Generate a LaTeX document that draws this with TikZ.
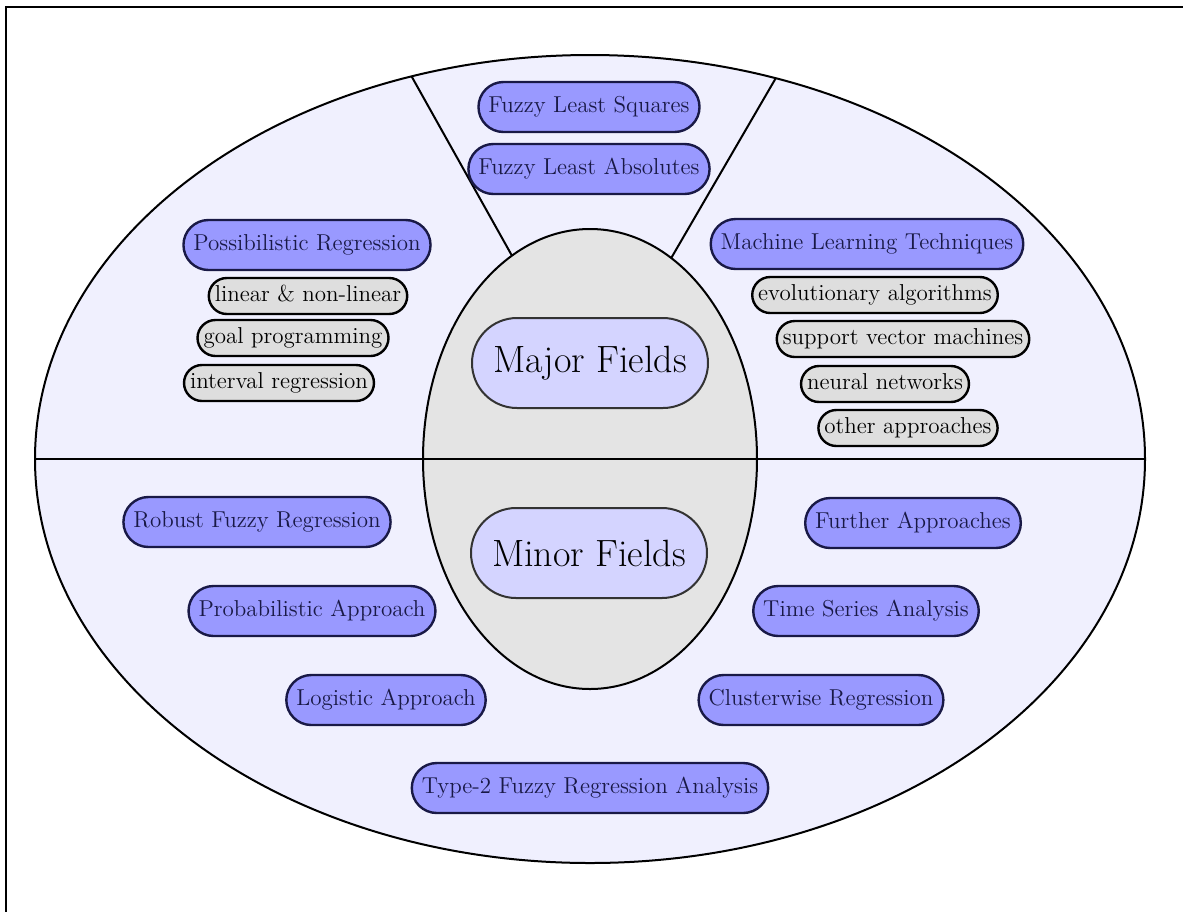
\documentclass[tikz,border=0pt]{standalone}
\usepackage{fontspec}
\usetikzlibrary{shapes.geometric}
\definecolor{outerfill}{RGB}{240,240,254}
\definecolor{innerfill}{RGB}{228,228,228}
\definecolor{bluebox}{RGB}{153,153,255}
\definecolor{fieldbox}{RGB}{212,212,255}
\definecolor{graybox}{RGB}{222,222,222}
\definecolor{navy}{RGB}{25,25,70}
\begin{document}
\begin{tikzpicture}[x=0.5pt,y=-0.5pt,
  bluenode/.style={draw=navy, line width=1.2pt, fill=bluebox, text=navy,
    rounded corners=12.5pt, minimum height=25pt, inner xsep=5pt, inner ysep=2pt,
    text height=7.8pt, text depth=2.3pt, font=\fontsize{11.5}{13}\selectfont},
  graynode/.style={draw=black, line width=1.2pt, fill=graybox,
    rounded corners=9pt, minimum height=18pt, inner xsep=3pt, inner ysep=1.5pt,
    text height=7.8pt, text depth=2.3pt, font=\fontsize{11.5}{13}\selectfont},
  fieldnode/.style={draw=black!80, line width=1pt, fill=fieldbox,
    rounded corners=22.5pt, minimum height=45pt, minimum width=118pt,
    inner sep=0pt, font=\fontsize{19}{22}\selectfont},
  region/.style={ellipse, draw=black, line width=1pt, inner sep=0pt, outer sep=0pt},
  divider/.style={draw=black, line width=1pt},
  frameline/.style={draw=black, line width=1.1pt}]
\useasboundingbox (0,0) rectangle (1183,911);
% frame (top and left edges visible)
\coordinate (fTL) at (6,7);
\coordinate (fTR) at (1190,7);
\coordinate (fBL) at (6,920);
\draw[frameline] (fTR) -- (fTL) -- (fBL);
% regions
\node[region, fill=outerfill, minimum width=555pt, minimum height=404pt] (outer) at (590,459) {};
\node[region, fill=innerfill, minimum width=167pt, minimum height=230pt] (inner) at (590,459) {};
\draw[divider] (outer.west) -- (outer.east);
\draw[divider] (inner.111.9) -- (outer.115.8);
\draw[divider] (inner.68.1) -- (outer.64.2);
% centre
\node[fieldnode] (major) at (590,363) {Major Fields};
\node[fieldnode] (minor) at (589,553) {Minor Fields};
% top wedge
\node[bluenode] (fls) at (589,107) {Fuzzy Least Squares};
\node[bluenode] (fla) at (589,169) {Fuzzy Least Absolutes};
% upper left
\node[bluenode] (poss) at (307,245) {Possibilistic Regression};
\node[graynode] (lin) at (308,296) {linear \& non-linear};
\node[graynode] (goal) at (293,338) {goal programming};
\node[graynode] (intv) at (279,383) {interval regression};
% upper right
\node[bluenode] (ml) at (867,244) {Machine Learning Techniques};
\node[graynode] (evo) at (875,295) {evolutionary algorithms};
\node[graynode] (svm) at (903,339) {support vector machines};
\node[graynode] (nn) at (885,384) {neural networks};
\node[graynode] (oth) at (908,428) {other approaches};
% lower left
\node[bluenode] (rob) at (257,522) {Robust Fuzzy Regression};
\node[bluenode] (prob) at (312,611) {Probabilistic Approach};
\node[bluenode] (logi) at (386,700) {Logistic Approach};
% bottom
\node[bluenode] (type2) at (590,788) {Type-2 Fuzzy Regression Analysis};
% lower right
\node[bluenode] (fur) at (913,523) {Further Approaches};
\node[bluenode] (tsa) at (866,611) {Time Series Analysis};
\node[bluenode] (clu) at (821,700) {Clusterwise Regression};
\end{tikzpicture}
\end{document}
